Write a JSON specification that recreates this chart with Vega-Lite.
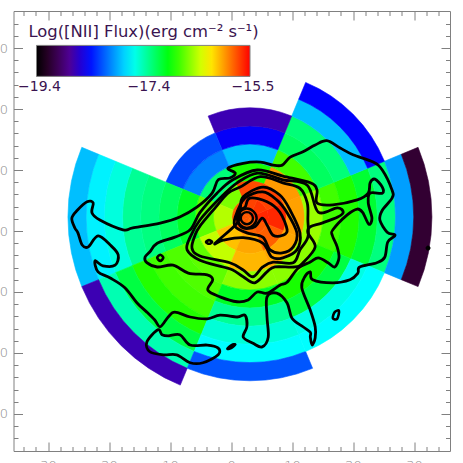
{"$schema":"https://vega.github.io/schema/vega-lite/v6.json","width":436.5,"height":440,"autosize":"none","padding":{"left":13.5,"top":11,"right":13,"bottom":12},"background":"white","config":{"view":{"stroke":null},"axis":{"grid":false,"title":null,"domainColor":"#808080","tickColor":"#808080","labelColor":"#8c8c8c","labelFont":"DejaVu Sans","labelFontSize":13,"labelFontWeight":200}},"resolve":{"axis":{"x":"independent","y":"independent"}},"datasets":{"rings":[
{"s":"E","cx":3.1,"cy":2.3,"t0":67.5,"t1":112.5,"r0":0,"r1":3,"v":-15.62},{"s":"E","cx":3.1,"cy":2.3,"t0":67.5,"t1":112.5,"r0":3,"r1":6,"v":-15.62},{"s":"E","cx":3.1,"cy":2.3,"t0":67.5,"t1":112.5,"r0":6,"r1":9,"v":-15.99},{"s":"E","cx":3.1,"cy":2.3,"t0":67.5,"t1":112.5,"r0":9,"r1":12,"v":-16.55},{"s":"E","cx":3.1,"cy":2.3,"t0":67.5,"t1":112.5,"r0":12,"r1":15,"v":-16.79},{"s":"E","cx":3.1,"cy":2.3,"t0":67.5,"t1":112.5,"r0":15,"r1":18,"v":-16.88},{"s":"E","cx":3.1,"cy":2.3,"t0":67.5,"t1":112.5,"r0":18,"r1":21,"v":-17.1},{"s":"E","cx":3.1,"cy":2.3,"t0":67.5,"t1":112.5,"r0":21,"r1":24,"v":-17.31},{"s":"E","cx":3.1,"cy":2.3,"t0":67.5,"t1":112.5,"r0":24,"r1":27,"v":-17.96},{"s":"E","cx":3.1,"cy":2.3,"t0":67.5,"t1":112.5,"r0":27,"r1":30,"v":-19.13},
{"s":"NE","cx":3.1,"cy":2.3,"t0":22.5,"t1":67.5,"r0":0,"r1":3,"v":-15.66},{"s":"NE","cx":3.1,"cy":2.3,"t0":22.5,"t1":67.5,"r0":3,"r1":6,"v":-15.7},{"s":"NE","cx":3.1,"cy":2.3,"t0":22.5,"t1":67.5,"r0":6,"r1":9,"v":-15.97},{"s":"NE","cx":3.1,"cy":2.3,"t0":22.5,"t1":67.5,"r0":9,"r1":12,"v":-16.79},{"s":"NE","cx":3.1,"cy":2.3,"t0":22.5,"t1":67.5,"r0":12,"r1":15,"v":-17.22},{"s":"NE","cx":3.1,"cy":2.3,"t0":22.5,"t1":67.5,"r0":15,"r1":18,"v":-17.29},{"s":"NE","cx":3.1,"cy":2.3,"t0":22.5,"t1":67.5,"r0":18,"r1":21,"v":-17.86},{"s":"NE","cx":3.1,"cy":2.3,"t0":22.5,"t1":67.5,"r0":21,"r1":24,"v":-18.46},
{"s":"N","cx":3.1,"cy":2.3,"t0":337.5,"t1":382.5,"r0":0,"r1":3,"v":-15.7},{"s":"N","cx":3.1,"cy":2.3,"t0":337.5,"t1":382.5,"r0":3,"r1":6,"v":-15.73},{"s":"N","cx":3.1,"cy":2.3,"t0":337.5,"t1":382.5,"r0":6,"r1":9,"v":-16.9},{"s":"N","cx":3.1,"cy":2.3,"t0":337.5,"t1":382.5,"r0":9,"r1":12,"v":-17.86},{"s":"N","cx":3.1,"cy":2.3,"t0":337.5,"t1":382.5,"r0":12,"r1":15,"v":-18.48},{"s":"N","cx":3.1,"cy":2.3,"t0":337.5,"t1":382.5,"r0":15,"r1":18,"v":-18.7},
{"s":"NW","cx":3.1,"cy":2.3,"t0":292.5,"t1":337.5,"r0":0,"r1":3,"v":-15.77},{"s":"NW","cx":3.1,"cy":2.3,"t0":292.5,"t1":337.5,"r0":3,"r1":6,"v":-16.63},{"s":"NW","cx":3.1,"cy":2.3,"t0":292.5,"t1":337.5,"r0":6,"r1":9,"v":-17.29},{"s":"NW","cx":3.1,"cy":2.3,"t0":292.5,"t1":337.5,"r0":9,"r1":12,"v":-18.06},{"s":"NW","cx":3.1,"cy":2.3,"t0":292.5,"t1":337.5,"r0":12,"r1":15,"v":-18.23},
{"s":"W","cx":3.1,"cy":2.3,"t0":247.5,"t1":292.5,"r0":0,"r1":3,"v":-15.77},{"s":"W","cx":3.1,"cy":2.3,"t0":247.5,"t1":292.5,"r0":3,"r1":6,"v":-16.48},{"s":"W","cx":3.1,"cy":2.3,"t0":247.5,"t1":292.5,"r0":6,"r1":9,"v":-16.71},{"s":"W","cx":3.1,"cy":2.3,"t0":247.5,"t1":292.5,"r0":9,"r1":12,"v":-17.06},{"s":"W","cx":3.1,"cy":2.3,"t0":247.5,"t1":292.5,"r0":12,"r1":15,"v":-17.22},{"s":"W","cx":3.1,"cy":2.3,"t0":247.5,"t1":292.5,"r0":15,"r1":18,"v":-17.31},{"s":"W","cx":3.1,"cy":2.3,"t0":247.5,"t1":292.5,"r0":18,"r1":21,"v":-17.37},{"s":"W","cx":3.1,"cy":2.3,"t0":247.5,"t1":292.5,"r0":21,"r1":24,"v":-17.57},{"s":"W","cx":3.1,"cy":2.3,"t0":247.5,"t1":292.5,"r0":24,"r1":27,"v":-17.7},{"s":"W","cx":3.1,"cy":2.3,"t0":247.5,"t1":292.5,"r0":27,"r1":30,"v":-17.86},
{"s":"SW","cx":3.1,"cy":2.3,"t0":202.5,"t1":247.5,"r0":0,"r1":3,"v":-15.77},{"s":"SW","cx":3.1,"cy":2.3,"t0":202.5,"t1":247.5,"r0":3,"r1":6,"v":-16.09},{"s":"SW","cx":3.1,"cy":2.3,"t0":202.5,"t1":247.5,"r0":6,"r1":9,"v":-16.44},{"s":"SW","cx":3.1,"cy":2.3,"t0":202.5,"t1":247.5,"r0":9,"r1":12,"v":-16.71},{"s":"SW","cx":3.1,"cy":2.3,"t0":202.5,"t1":247.5,"r0":12,"r1":15,"v":-16.75},{"s":"SW","cx":3.1,"cy":2.3,"t0":202.5,"t1":247.5,"r0":15,"r1":18,"v":-16.79},{"s":"SW","cx":3.1,"cy":2.3,"t0":202.5,"t1":247.5,"r0":18,"r1":21,"v":-16.87},{"s":"SW","cx":3.1,"cy":2.3,"t0":202.5,"t1":247.5,"r0":21,"r1":24,"v":-17.14},{"s":"SW","cx":3.1,"cy":2.3,"t0":202.5,"t1":247.5,"r0":24,"r1":27,"v":-17.45},{"s":"SW","cx":3.1,"cy":2.3,"t0":202.5,"t1":247.5,"r0":27,"r1":30,"v":-18.7},
{"s":"S","cx":3.1,"cy":2.3,"t0":157.5,"t1":202.5,"r0":0,"r1":3,"v":-15.81},{"s":"S","cx":3.1,"cy":2.3,"t0":157.5,"t1":202.5,"r0":3,"r1":6,"v":-16.01},{"s":"S","cx":3.1,"cy":2.3,"t0":157.5,"t1":202.5,"r0":6,"r1":9,"v":-16.06},{"s":"S","cx":3.1,"cy":2.3,"t0":157.5,"t1":202.5,"r0":9,"r1":12,"v":-16.59},{"s":"S","cx":3.1,"cy":2.3,"t0":157.5,"t1":202.5,"r0":12,"r1":15,"v":-17.06},{"s":"S","cx":3.1,"cy":2.3,"t0":157.5,"t1":202.5,"r0":15,"r1":18,"v":-17.37},{"s":"S","cx":3.1,"cy":2.3,"t0":157.5,"t1":202.5,"r0":18,"r1":21,"v":-17.55},{"s":"S","cx":3.1,"cy":2.3,"t0":157.5,"t1":202.5,"r0":21,"r1":24,"v":-17.66},{"s":"S","cx":3.1,"cy":2.3,"t0":157.5,"t1":202.5,"r0":24,"r1":27,"v":-18.19},
{"s":"SE","cx":3.1,"cy":2.3,"t0":112.5,"t1":157.5,"r0":0,"r1":3,"v":-15.77},{"s":"SE","cx":3.1,"cy":2.3,"t0":112.5,"t1":157.5,"r0":3,"r1":6,"v":-15.79},{"s":"SE","cx":3.1,"cy":2.3,"t0":112.5,"t1":157.5,"r0":6,"r1":9,"v":-16.01},{"s":"SE","cx":3.1,"cy":2.3,"t0":112.5,"t1":157.5,"r0":9,"r1":12,"v":-16.59},{"s":"SE","cx":3.1,"cy":2.3,"t0":112.5,"t1":157.5,"r0":12,"r1":15,"v":-16.9},{"s":"SE","cx":3.1,"cy":2.3,"t0":112.5,"t1":157.5,"r0":15,"r1":18,"v":-17.14},{"s":"SE","cx":3.1,"cy":2.3,"t0":112.5,"t1":157.5,"r0":18,"r1":21,"v":-17.59},{"s":"SE","cx":3.1,"cy":2.3,"t0":112.5,"t1":157.5,"r0":21,"r1":24,"v":-17.66}
],"contours":[
{"c":"a","i":0,"x":-23.6,"y":4.8},{"c":"a","i":1,"x":-25.2,"y":3.4},{"c":"a","i":2,"x":-26.1,"y":2.1},{"c":"a","i":3,"x":-25.6,"y":0.5},{"c":"a","i":4,"x":-25.1,"y":-0.3},{"c":"a","i":5,"x":-24.4,"y":-2.3},{"c":"a","i":6,"x":-23.4,"y":-2.6},{"c":"a","i":7,"x":-21.8,"y":-0.8},{"c":"a","i":8,"x":-19.8,"y":-2.3},{"c":"a","i":9,"x":-18.5,"y":-3.9},{"c":"a","i":10,"x":-19.0,"y":-5.6},{"c":"a","i":11,"x":-21.0,"y":-5.7},{"c":"a","i":12,"x":-22.3,"y":-4.9},{"c":"a","i":13,"x":-21.8,"y":-6.7},{"c":"a","i":14,"x":-19.8,"y":-7.7},{"c":"a","i":15,"x":-17.4,"y":-9.3},{"c":"a","i":16,"x":-15.4,"y":-11.8},{"c":"a","i":17,"x":-13.8,"y":-13.3},{"c":"a","i":18,"x":-12.5,"y":-14.6},{"c":"a","i":19,"x":-11.6,"y":-15.7},{"c":"a","i":20,"x":-10.3,"y":-14.1},{"c":"a","i":21,"x":-9.2,"y":-13.3},{"c":"a","i":22,"x":-6.7,"y":-14.1},{"c":"a","i":23,"x":-3.9,"y":-14.4},{"c":"a","i":24,"x":-1.8,"y":-13.8},{"c":"a","i":25,"x":1.0,"y":-14.1},{"c":"a","i":26,"x":2.3,"y":-13.8},{"c":"a","i":27,"x":2.6,"y":-15.7},{"c":"a","i":28,"x":2.0,"y":-17.4},{"c":"a","i":29,"x":3.6,"y":-18.4},{"c":"a","i":30,"x":5.1,"y":-19.0},{"c":"a","i":31,"x":6.1,"y":-17.4},{"c":"a","i":32,"x":5.9,"y":-14.1},{"c":"a","i":33,"x":5.9,"y":-10.8},{"c":"a","i":34,"x":7.5,"y":-10.2},{"c":"a","i":35,"x":9.2,"y":-11.8},{"c":"a","i":36,"x":10.0,"y":-14.3},{"c":"a","i":37,"x":11.8,"y":-15.7},{"c":"a","i":38,"x":13.0,"y":-16.6},{"c":"a","i":39,"x":13.0,"y":-17.4},{"c":"a","i":40,"x":13.3,"y":-18.7},{"c":"a","i":41,"x":13.8,"y":-17.5},{"c":"a","i":42,"x":13.8,"y":-15.7},{"c":"a","i":43,"x":13.0,"y":-13.0},{"c":"a","i":44,"x":11.6,"y":-9.3},{"c":"a","i":45,"x":12.1,"y":-7.5},{"c":"a","i":46,"x":13.0,"y":-6.7},{"c":"a","i":47,"x":13.4,"y":-8.0},{"c":"a","i":48,"x":16.7,"y":-8.5},{"c":"a","i":49,"x":19.5,"y":-8.0},{"c":"a","i":50,"x":20.8,"y":-6.9},{"c":"a","i":51,"x":21.1,"y":-5.9},{"c":"a","i":52,"x":23.9,"y":-5.2},{"c":"a","i":53,"x":25.2,"y":-4.3},{"c":"a","i":54,"x":25.7,"y":-1.8},{"c":"a","i":55,"x":26.9,"y":-0.7},{"c":"a","i":56,"x":25.6,"y":-0.2},{"c":"a","i":57,"x":24.4,"y":1.8},{"c":"a","i":58,"x":24.8,"y":3.4},{"c":"a","i":59,"x":26.4,"y":5.4},{"c":"a","i":60,"x":26.4,"y":6.7},{"c":"a","i":61,"x":24.8,"y":10.0},{"c":"a","i":62,"x":23.3,"y":11.3},{"c":"a","i":63,"x":20.0,"y":12.5},{"c":"a","i":64,"x":17.9,"y":13.6},{"c":"a","i":65,"x":15.7,"y":14.8},{"c":"a","i":66,"x":13.8,"y":14.1},{"c":"a","i":67,"x":11.8,"y":13.0},{"c":"a","i":68,"x":9.7,"y":12.1},{"c":"a","i":69,"x":8.4,"y":10.8},{"c":"a","i":70,"x":6.9,"y":10.8},{"c":"a","i":71,"x":4.8,"y":11.3},{"c":"a","i":72,"x":2.0,"y":11.1},{"c":"a","i":73,"x":-0.5,"y":10.3},{"c":"a","i":74,"x":0.7,"y":9.5},{"c":"a","i":75,"x":-0.2,"y":8.7},{"c":"a","i":76,"x":-2.1,"y":8.4},{"c":"a","i":77,"x":-3.1,"y":6.2},{"c":"a","i":78,"x":-5.6,"y":3.9},{"c":"a","i":79,"x":-8.4,"y":2.3},{"c":"a","i":80,"x":-11.6,"y":1.3},{"c":"a","i":81,"x":-16.1,"y":0.5},{"c":"a","i":82,"x":-17.7,"y":0.2},{"c":"a","i":83,"x":-21.5,"y":1.8},{"c":"a","i":84,"x":-22.8,"y":3.0},{"c":"a","i":85,"x":-22.6,"y":4.6},
{"c":"b","i":0,"x":-12.0,"y":-16.2},{"c":"b","i":1,"x":-13.8,"y":-18.2},{"c":"b","i":2,"x":-13.3,"y":-19.8},{"c":"b","i":3,"x":-11.1,"y":-20.3},{"c":"b","i":4,"x":-8.9,"y":-20.3},{"c":"b","i":5,"x":-6.7,"y":-21.6},{"c":"b","i":6,"x":-4.6,"y":-21.6},{"c":"b","i":7,"x":-2.1,"y":-20.3},{"c":"b","i":8,"x":-2.1,"y":-19.2},{"c":"b","i":9,"x":-3.9,"y":-18.7},{"c":"b","i":10,"x":-6.7,"y":-18.7},{"c":"b","i":11,"x":-8.4,"y":-17.0},{"c":"b","i":12,"x":-10.3,"y":-17.2},{"c":"b","i":13,"x":-11.3,"y":-17.0},
{"c":"c","i":0,"x":-14.1,"y":-4.3},{"c":"c","i":1,"x":-13.3,"y":-3.4},{"c":"c","i":2,"x":-12.1,"y":-2.0},{"c":"c","i":3,"x":-9.2,"y":-1.0},{"c":"c","i":4,"x":-6.7,"y":0.2},{"c":"c","i":5,"x":-5.1,"y":3.0},{"c":"c","i":6,"x":-2.3,"y":6.2},{"c":"c","i":7,"x":0.3,"y":8.4},{"c":"c","i":8,"x":4.3,"y":10.0},{"c":"c","i":9,"x":8.5,"y":9.0},{"c":"c","i":10,"x":13.0,"y":7.9},{"c":"c","i":11,"x":14.1,"y":6.7},{"c":"c","i":12,"x":14.1,"y":4.6},{"c":"c","i":13,"x":16.7,"y":4.3},{"c":"c","i":14,"x":20.7,"y":5.1},{"c":"c","i":15,"x":22.5,"y":6.2},{"c":"c","i":16,"x":22.8,"y":7.9},{"c":"c","i":17,"x":23.6,"y":8.5},{"c":"c","i":18,"x":24.8,"y":7.2},{"c":"c","i":19,"x":24.8,"y":6.2},{"c":"c","i":20,"x":22.8,"y":6.2},{"c":"c","i":21,"x":22.5,"y":4.6},{"c":"c","i":22,"x":23.1,"y":2.1},{"c":"c","i":23,"x":22.6,"y":1.1},{"c":"c","i":24,"x":21.6,"y":3.0},{"c":"c","i":25,"x":20.7,"y":3.6},{"c":"c","i":26,"x":19.0,"y":2.6},{"c":"c","i":27,"x":16.7,"y":0.2},{"c":"c","i":28,"x":16.6,"y":-0.7},{"c":"c","i":29,"x":17.4,"y":-2.6},{"c":"c","i":30,"x":17.7,"y":-4.4},{"c":"c","i":31,"x":17.0,"y":-5.9},{"c":"c","i":32,"x":15.9,"y":-5.2},{"c":"c","i":33,"x":14.3,"y":-4.4},{"c":"c","i":34,"x":13.0,"y":-5.1},{"c":"c","i":35,"x":11.0,"y":-6.1},{"c":"c","i":36,"x":9.2,"y":-8.4},{"c":"c","i":37,"x":8.0,"y":-8.9},{"c":"c","i":38,"x":5.9,"y":-10.2},{"c":"c","i":39,"x":4.3,"y":-10.0},{"c":"c","i":40,"x":2.8,"y":-11.3},{"c":"c","i":41,"x":1.0,"y":-11.6},{"c":"c","i":42,"x":-1.8,"y":-10.8},{"c":"c","i":43,"x":-3.8,"y":-9.7},{"c":"c","i":44,"x":-3.0,"y":-8.0},{"c":"c","i":45,"x":-3.9,"y":-7.2},{"c":"c","i":46,"x":-7.0,"y":-6.9},{"c":"c","i":47,"x":-9.5,"y":-5.6},{"c":"c","i":48,"x":-12.1,"y":-5.9},{"c":"c","i":49,"x":-13.8,"y":-5.2},
{"c":"d","i":0,"x":-5.1,"y":1.8},{"c":"d","i":1,"x":-1.8,"y":5.4},{"c":"d","i":2,"x":1.0,"y":7.9},{"c":"d","i":3,"x":4.4,"y":9.5},{"c":"d","i":4,"x":8.5,"y":8.4},{"c":"d","i":5,"x":12.5,"y":7.5},{"c":"d","i":6,"x":14.3,"y":3.1},{"c":"d","i":7,"x":17.4,"y":3.8},{"c":"d","i":8,"x":18.4,"y":3.1},{"c":"d","i":9,"x":17.5,"y":2.3},{"c":"d","i":10,"x":14.9,"y":1.3},{"c":"d","i":11,"x":13.0,"y":0.7},{"c":"d","i":12,"x":12.6,"y":-0.3},{"c":"d","i":13,"x":13.8,"y":-2.6},{"c":"d","i":14,"x":11.8,"y":-5.2},{"c":"d","i":15,"x":10.5,"y":-5.9},{"c":"d","i":16,"x":7.2,"y":-5.9},{"c":"d","i":17,"x":5.9,"y":-6.7},{"c":"d","i":18,"x":3.9,"y":-8.5},{"c":"d","i":19,"x":2.0,"y":-7.5},{"c":"d","i":20,"x":0.3,"y":-6.4},{"c":"d","i":21,"x":-1.3,"y":-5.9},{"c":"d","i":22,"x":-5.1,"y":-4.8},{"c":"d","i":23,"x":-7.2,"y":-3.1},{"c":"d","i":24,"x":-6.7,"y":-1.0},
{"c":"e","i":0,"x":-6.4,"y":-2.8},{"c":"e","i":1,"x":-5.9,"y":-0.7},{"c":"e","i":2,"x":-5.1,"y":0.8},{"c":"e","i":3,"x":-2.6,"y":3.8},{"c":"e","i":4,"x":-0.5,"y":6.2},{"c":"e","i":5,"x":1.5,"y":7.2},{"c":"e","i":6,"x":4.8,"y":8.9},{"c":"e","i":7,"x":8.5,"y":7.9},{"c":"e","i":8,"x":11.3,"y":7.0},{"c":"e","i":9,"x":12.5,"y":4.6},{"c":"e","i":10,"x":12.6,"y":1.8},{"c":"e","i":11,"x":12.6,"y":-1.0},{"c":"e","i":12,"x":11.3,"y":-3.1},{"c":"e","i":13,"x":10.2,"y":-5.2},{"c":"e","i":14,"x":6.9,"y":-5.1},{"c":"e","i":15,"x":5.2,"y":-5.9},{"c":"e","i":16,"x":3.6,"y":-7.5},{"c":"e","i":17,"x":2.0,"y":-6.4},{"c":"e","i":18,"x":-0.2,"y":-5.2},{"c":"e","i":19,"x":-5.1,"y":-4.1},
{"c":"f","i":0,"x":-2.6,"y":-2.0},{"c":"f","i":1,"x":1.0,"y":1.3},{"c":"f","i":2,"x":1.5,"y":3.4},{"c":"f","i":3,"x":2.0,"y":5.6},{"c":"f","i":4,"x":5.2,"y":7.2},{"c":"f","i":5,"x":8.0,"y":5.9},{"c":"f","i":6,"x":9.7,"y":3.4},{"c":"f","i":7,"x":11.3,"y":-0.3},{"c":"f","i":8,"x":10.8,"y":-3.1},{"c":"f","i":9,"x":8.5,"y":-4.4},{"c":"f","i":10,"x":6.7,"y":-4.3},{"c":"f","i":11,"x":5.2,"y":-2.0},{"c":"f","i":12,"x":2.0,"y":-1.1},{"c":"f","i":13,"x":-1.3,"y":-1.5},
{"c":"g","i":0,"x":0.7,"y":2.3},{"c":"g","i":1,"x":2.3,"y":5.4},{"c":"g","i":2,"x":5.2,"y":6.4},{"c":"g","i":3,"x":7.5,"y":5.1},{"c":"g","i":4,"x":9.2,"y":3.0},{"c":"g","i":5,"x":10.8,"y":-0.3},{"c":"g","i":6,"x":10.2,"y":-2.6},{"c":"g","i":7,"x":8.4,"y":-3.6},{"c":"g","i":8,"x":6.4,"y":-3.1},{"c":"g","i":9,"x":5.2,"y":-1.0},{"c":"g","i":10,"x":2.6,"y":-0.3},{"c":"g","i":11,"x":0.7,"y":0.7},
{"c":"h","i":0,"x":1.5,"y":3.4},{"c":"h","i":1,"x":2.3,"y":3.9},{"c":"h","i":2,"x":3.1,"y":5.4},{"c":"h","i":3,"x":5.9,"y":4.8},{"c":"h","i":4,"x":8.0,"y":3.1},{"c":"h","i":5,"x":9.2,"y":0.2},{"c":"h","i":6,"x":8.5,"y":-0.7},{"c":"h","i":7,"x":6.9,"y":-0.7},{"c":"h","i":8,"x":5.9,"y":1.0},{"c":"h","i":9,"x":5.1,"y":2.1},{"c":"h","i":10,"x":3.9,"y":0.7},{"c":"h","i":11,"x":2.0,"y":0.5},{"c":"h","i":12,"x":1.1,"y":1.8}
],"inner":[
{"c":"i","i":0,"x":4.2,"y":2.1},{"c":"i","i":1,"x":3.7,"y":3.2},{"c":"i","i":2,"x":2.6,"y":3.7},{"c":"i","i":3,"x":1.5,"y":3.2},{"c":"i","i":4,"x":1.0,"y":2.1},{"c":"i","i":5,"x":1.5,"y":1.0},{"c":"i","i":6,"x":2.6,"y":0.5},{"c":"i","i":7,"x":3.7,"y":1.0},
{"c":"j","i":0,"x":3.6,"y":2.1},{"c":"j","i":1,"x":3.3,"y":2.8},{"c":"j","i":2,"x":2.6,"y":3.1},{"c":"j","i":3,"x":1.9,"y":2.8},{"c":"j","i":4,"x":1.6,"y":2.1},{"c":"j","i":5,"x":1.9,"y":1.4},{"c":"j","i":6,"x":2.6,"y":1.1},{"c":"j","i":7,"x":3.3,"y":1.4}
],"ovals":[
{"c":"k","i":0,"x":-3.1,"y":-1.8},{"c":"k","i":1,"x":-3.6,"y":-1.5},{"c":"k","i":2,"x":-4.1,"y":-1.8},{"c":"k","i":3,"x":-3.6,"y":-2.1},
{"c":"l","i":0,"x":-11.1,"y":-4.4},{"c":"l","i":1,"x":-11.6,"y":-3.9},{"c":"l","i":2,"x":-12.1,"y":-4.4},{"c":"l","i":3,"x":-11.6,"y":-4.9},
{"c":"m","i":0,"x":0.7,"y":-18.6},{"c":"m","i":1,"x":0.1,"y":-18.7},{"c":"m","i":2,"x":-0.6,"y":-19.3},{"c":"m","i":3,"x":0.0,"y":-19.2},
{"c":"n","i":0,"x":17.7,"y":-13.1},{"c":"n","i":1,"x":17.0,"y":-13.3},{"c":"n","i":2,"x":16.7,"y":-14.3},{"c":"n","i":3,"x":17.4,"y":-14.4},
{"c":"o","i":0,"x":32.5,"y":-2.8},{"c":"o","i":1,"x":32.3,"y":-2.6},{"c":"o","i":2,"x":32.1,"y":-2.8},{"c":"o","i":3,"x":32.3,"y":-3.0}
]},"layer":[
{"data":{"name":"rings"},"mark":{"type":"arc","stroke":{"expr":"scale('color', datum.v)"},"strokeWidth":0.6},"encoding":{
"x":{"field":"cx","type":"quantitative","scale":{"domain":[-35.66,35.9],"nice":false,"zero":false},"axis":{"orient":"bottom","values":[-30,-20,-10,0,10,20,30],"labelExpr":"abs(datum.value)","tickSize":-9,"labelPadding":17,"domain":true,"labelFlush":false}},
"y":{"field":"cy","type":"quantitative","scale":{"domain":[-36.07,36.07],"nice":false,"zero":false},"axis":{"orient":"left","values":[-30,-20,-10,0,10,20,30],"labelExpr":"abs(datum.value)","tickSize":-9,"labelPadding":15,"domain":true}},
"theta":{"field":"t0","type":"quantitative","stack":null,"scale":{"domain":[0,360],"range":[0,6.28319]}},
"theta2":{"field":"t1"},
"radius":{"field":"r1","type":"quantitative","scale":{"type":"linear","domain":[0,33],"range":[0,200.2],"zero":true}},
"radius2":{"field":"r0"},
"color":{"field":"v","type":"quantitative","scale":{"interpolate":"rgb","domain":[-19.4,-19.13,-18.78,-18.46,-17.66,-16.96,-16.28,-15.89,-15.5],"range":["#000000","#320032","#50009a","#0000ff","#00ffff","#00ff00","#ffff00","#ff8000","#ff0000"]},"legend":{"type":"gradient","orient":"none","legendX":15,"legendY":13,"direction":"horizontal","title":"Log([NII] Flux)(erg cm⁻² s⁻¹)","titleLimit":400,"titleFont":"DejaVu Sans","titleFontSize":16.4,"titleFontWeight":"normal","titleColor":"#3a1450","titleAnchor":"middle","titlePadding":5,"gradientLength":213.5,"gradientThickness":31,"gradientStrokeColor":"#808080","gradientStrokeWidth":1,"values":[-19.4,-17.4,-15.5],"format":".1f","labelFont":"DejaVu Sans","labelFontSize":14,"labelColor":"#3a1450","labelOffset":4,"labelOverlap":false,"encode":{"labels":{"update":{"align":{"value":"center"},"dx":{"value":3}}}}}}
}},
{"data":{"name":"contours"},"mark":{"type":"line","interpolate":"cardinal-closed","color":"black","strokeWidth":2.8},"encoding":{
"x":{"field":"x","type":"quantitative","axis":{"orient":"bottom","values":[-34,-32,-28,-26,-24,-22,-18,-16,-14,-12,-8,-6,-4,-2,2,4,6,8,12,14,16,18,22,24,26,28,32,34],"labels":false,"tickSize":-4.5,"domain":false}},
"y":{"field":"y","type":"quantitative","axis":{"orient":"left","values":[-34,-32,-28,-26,-24,-22,-18,-16,-14,-12,-8,-6,-4,-2,2,4,6,8,12,14,16,18,22,24,26,28,32,34],"labels":false,"tickSize":-4.5,"domain":false}},
"detail":{"field":"c"},"order":{"field":"i","type":"quantitative"}}},
{"data":{"name":"inner"},"mark":{"type":"line","interpolate":"cardinal-closed","color":"black","strokeWidth":2.4},"encoding":{
"x":{"field":"x","type":"quantitative","axis":{"orient":"top","values":[-30,-20,-10,0,10,20,30],"labels":false,"tickSize":-9,"domain":true}},
"y":{"field":"y","type":"quantitative","axis":{"orient":"right","values":[-30,-20,-10,0,10,20,30],"labels":false,"tickSize":-9,"domain":true}},
"detail":{"field":"c"},"order":{"field":"i","type":"quantitative"}}},
{"data":{"name":"ovals"},"mark":{"type":"line","interpolate":"cardinal-closed","color":"black","strokeWidth":2.6},"encoding":{
"x":{"field":"x","type":"quantitative","axis":{"orient":"top","values":[-34,-32,-28,-26,-24,-22,-18,-16,-14,-12,-8,-6,-4,-2,2,4,6,8,12,14,16,18,22,24,26,28,32,34],"labels":false,"tickSize":-4.5,"domain":false}},
"y":{"field":"y","type":"quantitative","axis":{"orient":"right","values":[-34,-32,-28,-26,-24,-22,-18,-16,-14,-12,-8,-6,-4,-2,2,4,6,8,12,14,16,18,22,24,26,28,32,34],"labels":false,"tickSize":-4.5,"domain":false}},
"detail":{"field":"c"},"order":{"field":"i","type":"quantitative"}}}
]}
